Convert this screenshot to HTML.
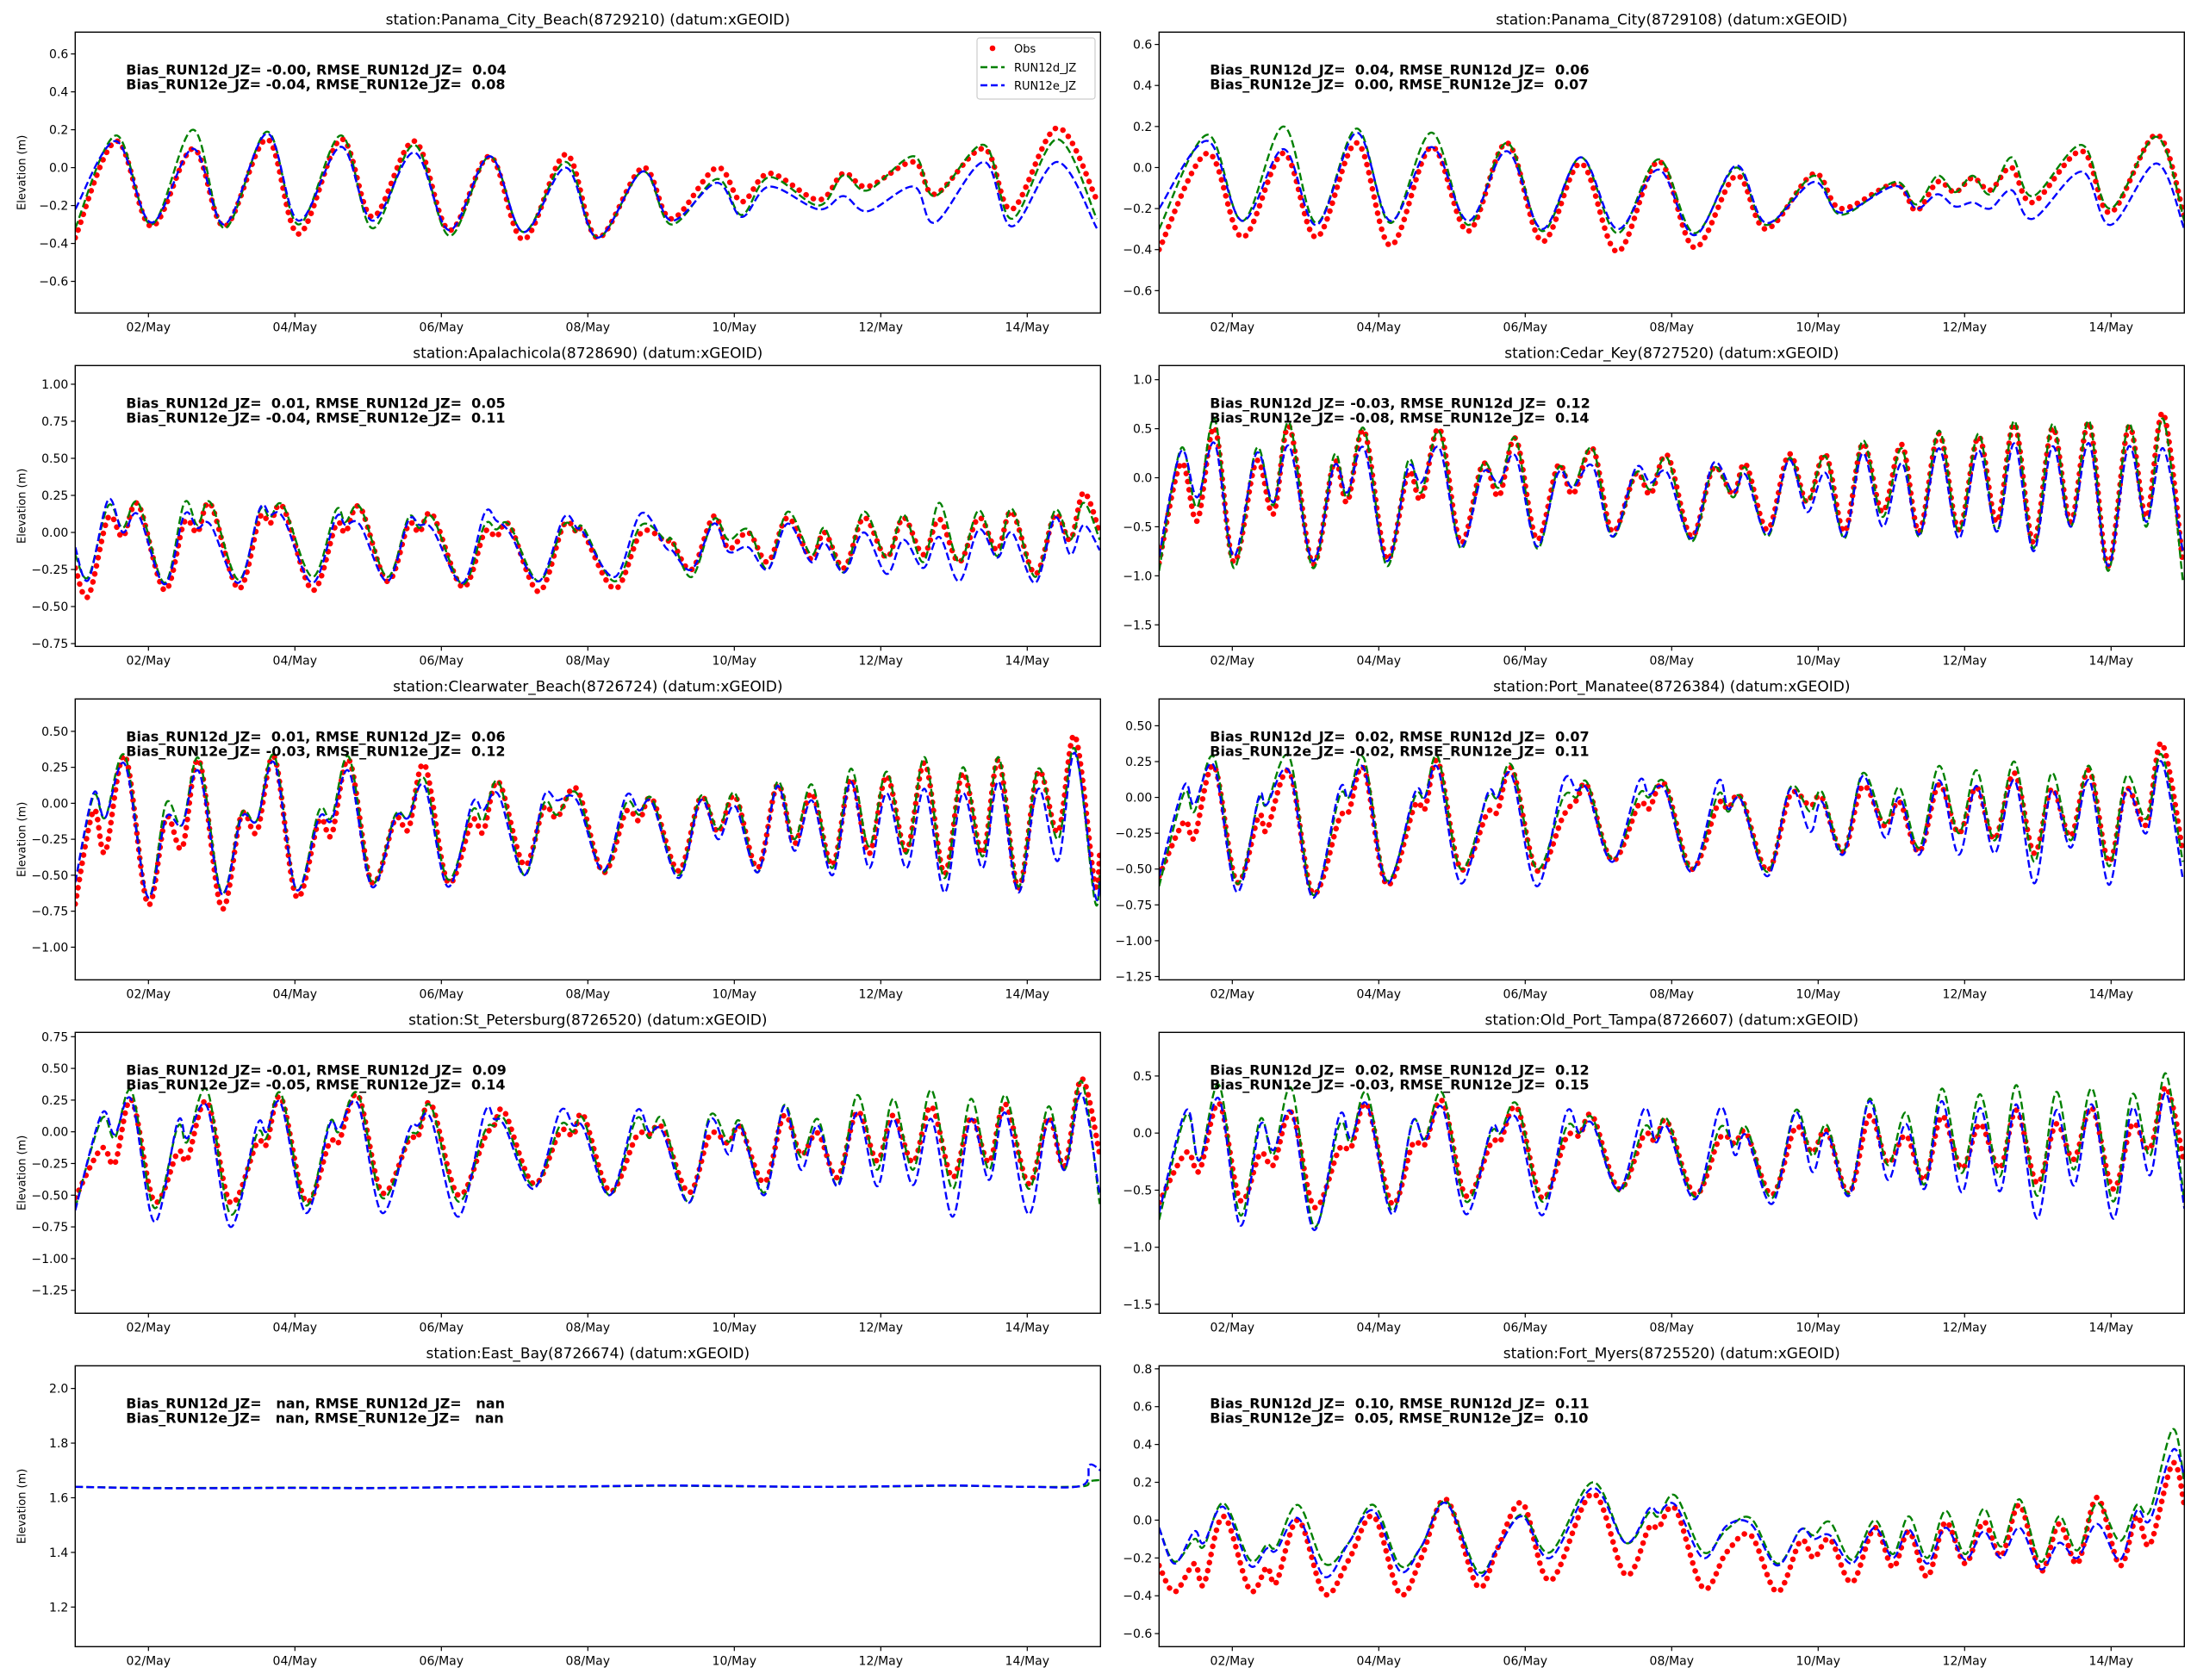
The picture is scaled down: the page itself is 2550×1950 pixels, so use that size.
<!DOCTYPE html>
<html><head><meta charset="utf-8"><title>Station water level comparison</title>
<style>
html,body{margin:0;padding:0;background:#fff;}
svg{display:block;font-family:"DejaVu Sans","Liberation Sans",sans-serif;}
.pre{white-space:pre;}
</style></head>
<body>
<svg id="fig" width="2550" height="1950" viewBox="0 0 2550 1950" xmlns="http://www.w3.org/2000/svg"></svg>
<script>
// ---------- x-axis ----------
const xTickDays = [1,3,5,7,9,11,13];
const xTickLabels = ["02/May","04/May","06/May","08/May","10/May","12/May","14/May"];

// ---------- Panel 1: Panama_City_Beach ----------
const p1T   = [0,0.56,1.04,1.61,2.04,2.62,3.05,3.63,4.06,4.63,5.11,5.66,6.12,6.70,7.13,7.75,8.14,8.76,9.10,9.48,10.15,10.49,10.82,11.45,11.74,12.41,12.79,13.41,13.95];
const p1Obs = [-0.37,0.14,-0.31,0.10,-0.31,0.15,-0.35,0.15,-0.26,0.14,-0.33,0.06,-0.38,0.07,-0.37,0.0,-0.27,0.0,-0.18,-0.03,-0.17,-0.03,-0.10,0.03,-0.14,0.10,-0.22,0.21,-0.17];
const p1D   = [-0.32,0.17,-0.30,0.20,-0.32,0.19,-0.30,0.17,-0.32,0.12,-0.36,0.06,-0.34,0.03,-0.37,-0.02,-0.30,-0.06,-0.25,-0.05,-0.20,-0.04,-0.12,0.06,-0.15,0.12,-0.27,0.15,-0.27];
const p1E   = [-0.22,0.14,-0.29,0.10,-0.30,0.18,-0.28,0.11,-0.28,0.08,-0.33,0.06,-0.34,0.0,-0.37,-0.02,-0.28,-0.08,-0.26,-0.10,-0.22,-0.15,-0.23,-0.10,-0.29,0.03,-0.31,0.03,-0.32];
const p1Ticks = [-0.6,-0.4,-0.2,0.0,0.2,0.4,0.6];

// ---------- Panel 2: Panama_City ----------
const p2T   = [0,0.66,1.14,1.70,2.15,2.70,3.16,3.72,4.22,4.75,5.23,5.76,6.26,6.82,7.31,7.88,8.29,8.94,9.31,10.05,10.34,10.63,10.87,11.11,11.35,11.64,11.93,12.60,12.99,13.62,14.0];
const p2Obs = [-0.40,0.07,-0.34,0.07,-0.34,0.12,-0.38,0.10,-0.31,0.12,-0.36,0.02,-0.41,0.03,-0.39,-0.04,-0.30,-0.03,-0.20,-0.08,-0.21,-0.07,-0.12,-0.05,-0.11,0.0,-0.17,0.08,-0.22,0.16,-0.24];
const p2D   = [-0.30,0.16,-0.26,0.20,-0.27,0.19,-0.27,0.17,-0.28,0.12,-0.31,0.05,-0.32,0.04,-0.32,0.0,-0.28,-0.04,-0.23,-0.07,-0.18,-0.04,-0.12,-0.04,-0.13,0.05,-0.14,0.11,-0.20,0.15,-0.26];
const p2E   = [-0.20,0.13,-0.26,0.09,-0.28,0.17,-0.26,0.10,-0.26,0.08,-0.30,0.05,-0.30,-0.01,-0.33,0.01,-0.27,-0.07,-0.22,-0.09,-0.20,-0.13,-0.19,-0.17,-0.20,-0.11,-0.25,-0.02,-0.28,0.02,-0.30];
const p2Ticks = [-0.6,-0.4,-0.2,0.0,0.2,0.4,0.6];

// ---------- Panel 3: Apalachicola ----------
const p3T   = [0,0.18,0.45,0.65,0.86,1.22,1.49,1.67,1.85,2.23,2.52,2.66,2.84,3.24,3.56,3.69,3.89,4.26,4.55,4.70,4.88,5.29,5.59,5.75,5.93,6.33,6.67,6.85,6.94,7.37,7.73,8.06,8.15,8.42,8.72,8.92,9.19,9.46,9.73,10.05,10.23,10.50,10.77,11.08,11.31,11.58,11.80,12.07,12.34,12.59,12.79,13.11,13.38,13.59,13.77,13.99];
const p3Obs = [-0.24,-0.43,0.10,-0.03,0.19,-0.39,0.07,0.0,0.19,-0.38,0.10,0.06,0.17,-0.39,0.05,0.0,0.17,-0.33,0.05,0.0,0.12,-0.37,0.0,-0.03,0.05,-0.40,0.05,0.0,0.0,-0.38,0.0,-0.06,-0.06,-0.25,0.11,-0.11,0.0,-0.20,0.10,-0.18,0.0,-0.24,0.10,-0.17,0.10,-0.15,0.09,-0.20,0.10,-0.12,0.14,-0.28,0.12,-0.05,0.27,0.0];
const p3D   = [-0.15,-0.30,0.18,0.03,0.20,-0.34,0.20,0.05,0.20,-0.32,0.15,0.10,0.18,-0.30,0.15,0.07,0.17,-0.30,0.10,0.03,0.10,-0.35,0.05,0.02,0.05,-0.33,0.05,0.0,0.03,-0.33,0.05,-0.05,-0.05,-0.30,0.09,-0.05,0.02,-0.25,0.14,-0.15,0.03,-0.27,0.14,-0.17,0.12,-0.20,0.20,-0.20,0.15,-0.16,0.16,-0.30,0.15,-0.05,0.20,-0.05];
const p3E   = [-0.10,-0.32,0.22,0.0,0.12,-0.35,0.12,0.03,0.05,-0.34,0.16,0.12,0.10,-0.34,0.10,0.05,0.05,-0.33,0.08,0.05,0.02,-0.34,0.13,0.08,0.0,-0.33,0.10,0.03,0.0,-0.30,0.13,-0.10,-0.12,-0.25,0.06,-0.13,-0.10,-0.25,0.06,-0.20,-0.07,-0.27,0.0,-0.28,-0.05,-0.24,-0.03,-0.33,0.02,-0.17,0.0,-0.34,0.10,-0.15,0.05,-0.12];
const p3Ticks = [-0.75,-0.5,-0.25,0.0,0.25,0.5,0.75,1.0];

// ---------- Panel 4: Cedar_Key ----------
const p4T   = [0,0.30,0.52,0.76,1.02,1.33,1.56,1.78,2.10,2.39,2.57,2.80,3.11,3.40,3.58,3.83,4.12,4.42,4.64,4.87,5.16,5.45,5.65,5.92,6.19,6.51,6.71,6.94,7.27,7.57,7.84,8.01,8.31,8.60,8.85,9.10,9.36,9.61,9.88,10.14,10.38,10.65,10.92,11.19,11.44,11.68,11.94,12.20,12.45,12.70,12.96,13.24,13.48,13.71,13.98];
const p4Obs = [-0.87,0.15,-0.44,0.51,-0.86,0.17,-0.37,0.52,-0.88,0.16,-0.25,0.48,-0.83,0.05,-0.22,0.50,-0.66,0.14,-0.19,0.40,-0.63,0.13,-0.17,0.30,-0.55,0.04,-0.17,0.23,-0.60,0.10,-0.17,0.14,-0.53,0.24,-0.25,0.24,-0.55,0.35,-0.35,0.34,-0.55,0.45,-0.53,0.42,-0.45,0.55,-0.66,0.51,-0.45,0.56,-0.90,0.52,-0.40,0.66,-0.87];
const p4D   = [-0.95,0.30,-0.30,0.60,-0.92,0.30,-0.28,0.56,-0.92,0.23,-0.20,0.50,-0.90,0.17,-0.15,0.47,-0.72,0.14,-0.10,0.40,-0.72,0.10,-0.10,0.30,-0.60,0.05,-0.12,0.20,-0.65,0.10,-0.20,0.10,-0.60,0.20,-0.25,0.22,-0.62,0.38,-0.40,0.30,-0.60,0.48,-0.55,0.45,-0.55,0.58,-0.72,0.55,-0.50,0.58,-0.95,0.55,-0.50,0.60,-1.05];
const p4E   = [-0.80,0.27,-0.20,0.35,-0.80,0.25,-0.25,0.32,-0.85,0.12,-0.15,0.30,-0.85,0.10,-0.05,0.30,-0.70,0.05,-0.05,0.22,-0.70,0.05,-0.10,0.12,-0.60,0.10,-0.05,0.05,-0.62,0.15,-0.15,0.03,-0.58,0.18,-0.35,0.05,-0.60,0.25,-0.50,0.15,-0.58,0.30,-0.62,0.28,-0.55,0.35,-0.75,0.32,-0.50,0.35,-0.90,0.32,-0.45,0.30,-0.75];
const p4Ticks = [-1.5,-1.0,-0.5,0.0,0.5,1.0];

// ---------- Panel 5: Clearwater_Beach ----------
const p5T   = [0,0.25,0.41,0.68,0.99,1.24,1.46,1.69,2.0,2.27,2.48,2.72,3.02,3.33,3.50,3.74,4.05,4.37,4.55,4.77,5.09,5.42,5.57,5.78,6.13,6.40,6.58,6.85,7.21,7.52,7.70,7.88,8.24,8.54,8.78,9.01,9.32,9.59,9.82,10.06,10.34,10.59,10.84,11.08,11.35,11.60,11.87,12.12,12.39,12.61,12.88,13.15,13.42,13.65,13.92,13.99];
const p5Obs = [-0.70,-0.05,-0.34,0.33,-0.70,-0.10,-0.31,0.30,-0.73,-0.08,-0.20,0.32,-0.65,-0.12,-0.22,0.30,-0.55,-0.11,-0.18,0.27,-0.55,-0.12,-0.20,0.15,-0.43,-0.03,-0.10,0.10,-0.48,-0.06,-0.12,0.03,-0.47,0.04,-0.20,0.05,-0.45,0.13,-0.28,0.07,-0.43,0.17,-0.35,0.19,-0.33,0.28,-0.49,0.21,-0.35,0.30,-0.59,0.22,-0.20,0.47,-0.55,-0.35];
const p5D   = [-0.55,0.05,-0.10,0.33,-0.65,0.0,-0.15,0.31,-0.62,-0.07,-0.12,0.33,-0.60,-0.05,-0.10,0.32,-0.55,-0.08,-0.10,0.17,-0.53,-0.05,-0.12,0.15,-0.50,0.0,-0.08,0.07,-0.48,0.0,-0.08,0.03,-0.50,0.05,-0.18,0.07,-0.48,0.15,-0.25,0.13,-0.45,0.24,-0.30,0.22,-0.35,0.32,-0.52,0.25,-0.37,0.32,-0.58,0.24,-0.25,0.38,-0.67,-0.50];
const p5E   = [-0.55,0.07,-0.10,0.27,-0.65,-0.10,-0.15,0.22,-0.63,-0.10,-0.12,0.28,-0.60,-0.10,-0.12,0.22,-0.58,-0.10,-0.10,0.12,-0.58,0.0,-0.05,0.06,-0.50,0.05,0.02,0.02,-0.47,0.05,-0.05,0.0,-0.52,0.02,-0.25,-0.02,-0.48,0.12,-0.33,0.02,-0.50,0.15,-0.45,0.07,-0.45,0.10,-0.62,0.07,-0.45,0.15,-0.62,0.10,-0.40,0.35,-0.62,-0.55];
const p5Ticks = [-1.0,-0.75,-0.5,-0.25,0.0,0.25,0.5];

// ---------- Panel 6: Port_Manatee ----------
const p6T   = [0,0.34,0.48,0.75,1.06,1.36,1.47,1.78,2.10,2.46,2.59,2.80,3.11,3.49,3.63,3.81,4.12,4.48,4.62,4.82,5.16,5.52,5.70,5.85,6.19,6.55,6.69,6.91,7.27,7.63,7.77,7.95,8.31,8.62,8.89,9.05,9.34,9.61,9.91,10.11,10.38,10.65,10.92,11.16,11.41,11.68,11.95,12.19,12.45,12.70,12.97,13.21,13.48,13.69,13.98];
const p6Obs = [-0.55,-0.17,-0.28,0.22,-0.59,-0.13,-0.23,0.18,-0.67,-0.15,-0.10,0.20,-0.61,-0.06,-0.08,0.25,-0.50,-0.11,-0.10,0.20,-0.51,-0.13,-0.02,0.08,-0.44,-0.05,-0.08,0.09,-0.50,-0.05,-0.08,0.0,-0.51,0.02,-0.06,0.0,-0.38,0.08,-0.20,-0.03,-0.38,0.09,-0.25,0.07,-0.29,0.17,-0.39,0.06,-0.27,0.19,-0.45,0.06,-0.19,0.38,-0.38];
const p6D   = [-0.62,0.03,-0.10,0.28,-0.60,-0.02,-0.05,0.28,-0.68,0.0,0.0,0.27,-0.58,0.0,0.0,0.28,-0.50,0.0,0.0,0.22,-0.50,0.0,0.0,0.10,-0.43,0.02,0.0,0.10,-0.50,0.02,-0.10,0.0,-0.52,0.07,-0.10,0.04,-0.38,0.17,-0.18,0.07,-0.35,0.22,-0.25,0.19,-0.30,0.25,-0.45,0.17,-0.30,0.22,-0.48,0.15,-0.15,0.30,-0.45];
const p6E   = [-0.55,0.08,-0.05,0.22,-0.66,0.0,-0.05,0.18,-0.70,0.05,0.0,0.20,-0.60,0.03,0.0,0.20,-0.60,0.02,0.0,0.15,-0.62,0.11,0.05,0.05,-0.45,0.11,0.02,0.05,-0.52,0.11,-0.08,-0.02,-0.55,0.06,-0.24,-0.03,-0.40,0.15,-0.28,0.0,-0.40,0.12,-0.40,0.08,-0.39,0.12,-0.60,0.05,-0.35,0.12,-0.61,0.05,-0.25,0.25,-0.57];
const p6Ticks = [-1.25,-1.0,-0.75,-0.5,-0.25,0.0,0.25,0.5];

// ---------- Panel 7: St_Petersburg ----------
const p7T   = [0,0.36,0.54,0.77,1.08,1.40,1.53,1.80,2.12,2.48,2.61,2.81,3.15,3.47,3.60,3.86,4.19,4.55,4.68,4.86,5.23,5.59,5.72,5.86,6.26,6.62,6.80,6.94,7.30,7.66,7.84,8.02,8.38,8.67,8.92,9.08,9.41,9.68,9.91,10.14,10.41,10.68,10.95,11.17,11.44,11.69,11.98,12.23,12.48,12.70,13.02,13.29,13.51,13.74,13.99];
const p7Obs = [-0.52,-0.13,-0.25,0.25,-0.55,-0.16,-0.22,0.24,-0.56,-0.09,-0.10,0.27,-0.55,-0.09,-0.08,0.29,-0.48,-0.07,-0.04,0.22,-0.50,-0.05,0.05,0.16,-0.41,0.0,-0.03,0.13,-0.47,-0.04,-0.02,0.03,-0.48,-0.02,-0.09,0.04,-0.40,0.13,-0.18,-0.01,-0.36,0.16,-0.23,0.13,-0.24,0.20,-0.36,0.11,-0.24,0.22,-0.41,0.11,-0.27,0.42,-0.18];
const p7D   = [-0.60,0.10,-0.05,0.32,-0.60,0.04,-0.08,0.33,-0.65,-0.02,-0.05,0.30,-0.58,0.07,0.0,0.30,-0.52,-0.05,0.0,0.20,-0.55,0.0,0.05,0.10,-0.43,0.05,0.0,0.10,-0.50,0.10,-0.05,0.10,-0.56,0.13,-0.08,0.08,-0.48,0.21,-0.20,0.10,-0.42,0.29,-0.30,0.26,-0.30,0.33,-0.45,0.26,-0.30,0.29,-0.45,0.20,-0.30,0.40,-0.57];
const p7E   = [-0.62,0.14,-0.02,0.25,-0.71,0.08,-0.05,0.20,-0.75,0.05,0.0,0.22,-0.64,0.05,0.02,0.22,-0.64,0.0,0.05,0.10,-0.67,0.15,0.10,0.05,-0.45,0.16,0.05,0.03,-0.50,0.16,0.0,0.0,-0.56,0.10,-0.18,0.05,-0.50,0.20,-0.30,0.05,-0.43,0.15,-0.43,0.10,-0.42,0.10,-0.67,0.10,-0.38,0.15,-0.65,0.10,-0.30,0.30,-0.50];
const p7Ticks = [-1.25,-1.0,-0.75,-0.5,-0.25,0.0,0.25,0.5,0.75];

// ---------- Panel 8: Old_Port_Tampa ----------
const p8T   = [0,0.37,0.55,0.82,1.11,1.38,1.56,1.81,2.12,2.46,2.62,2.84,3.18,3.46,3.63,3.87,4.19,4.53,4.66,4.89,5.23,5.56,5.74,5.92,6.28,6.62,6.78,6.94,7.32,7.66,7.86,8.02,8.37,8.69,8.92,9.12,9.42,9.70,9.95,10.20,10.45,10.69,10.96,11.21,11.48,11.71,11.99,12.25,12.49,12.74,13.03,13.29,13.53,13.75,14.0];
const p8Obs = [-0.61,-0.17,-0.33,0.26,-0.59,-0.18,-0.28,0.18,-0.65,-0.14,-0.13,0.25,-0.62,-0.10,-0.10,0.28,-0.55,-0.09,-0.07,0.22,-0.57,-0.04,-0.02,0.15,-0.49,-0.02,-0.07,0.10,-0.54,-0.04,-0.09,0.0,-0.54,0.05,-0.17,0.02,-0.53,0.15,-0.26,-0.02,-0.41,0.15,-0.31,0.08,-0.31,0.20,-0.44,0.08,-0.23,0.22,-0.49,0.08,-0.14,0.40,-0.27];
const p8D   = [-0.76,0.16,-0.24,0.42,-0.72,0.12,-0.19,0.39,-0.82,0.07,-0.08,0.35,-0.68,0.10,-0.05,0.35,-0.60,0.0,0.0,0.25,-0.60,0.05,0.0,0.13,-0.51,0.05,-0.05,0.12,-0.56,0.05,-0.12,0.05,-0.57,0.20,-0.20,0.07,-0.53,0.30,-0.28,0.18,-0.45,0.39,-0.35,0.34,-0.38,0.42,-0.55,0.36,-0.32,0.39,-0.60,0.34,-0.20,0.52,-0.60];
const p8E   = [-0.70,0.20,-0.24,0.30,-0.81,0.07,-0.15,0.18,-0.85,0.15,-0.05,0.25,-0.71,0.10,-0.07,0.22,-0.71,0.03,0.0,0.12,-0.72,0.18,0.0,0.08,-0.50,0.21,-0.08,0.05,-0.58,0.22,-0.19,-0.02,-0.62,0.18,-0.34,0.0,-0.55,0.28,-0.41,0.08,-0.49,0.28,-0.52,0.22,-0.51,0.25,-0.75,0.20,-0.46,0.25,-0.75,0.22,-0.37,0.35,-0.66];
const p8Ticks = [-1.5,-1.0,-0.5,0.0,0.5];

// ---------- Panel 9: East_Bay ----------
const p9T   = [0,1,2,3,4,5,6,7,8,9,10,11,12,13,13.75,13.85,14.0];
const p9Obs = [];
const p9D   = [1.64,1.636,1.636,1.637,1.636,1.638,1.64,1.641,1.644,1.642,1.64,1.641,1.644,1.64,1.642,1.66,1.665];
const p9E   = [1.64,1.635,1.635,1.636,1.635,1.638,1.64,1.642,1.645,1.643,1.64,1.642,1.645,1.64,1.645,1.72,1.70];
const p9Ticks = [1.2,1.4,1.6,1.8,2.0];

// ---------- Panel 10: Fort_Myers ----------
const p10T   = [0,0.21,0.48,0.61,0.88,1.24,1.47,1.60,1.90,2.26,2.59,2.93,3.29,3.58,3.92,4.35,4.62,4.96,5.34,5.92,6.37,6.69,6.82,7.05,7.43,7.75,8.08,8.44,8.76,8.94,9.16,9.46,9.77,10.02,10.24,10.49,10.74,11.01,11.26,11.50,11.75,12.04,12.29,12.54,12.81,13.12,13.35,13.53,13.84,14.0];
const p10Obs = [-0.24,-0.38,-0.23,-0.34,0.02,-0.37,-0.25,-0.33,0.0,-0.39,-0.21,0.02,-0.39,-0.20,0.11,-0.35,-0.15,0.09,-0.32,0.14,-0.29,-0.04,-0.04,0.06,-0.36,-0.17,-0.08,-0.38,-0.11,-0.20,-0.10,-0.33,-0.04,-0.25,-0.06,-0.30,-0.01,-0.23,-0.01,-0.19,0.08,-0.27,-0.02,-0.23,0.12,-0.24,0.02,-0.13,0.30,0.08];
const p10D   = [-0.04,-0.22,-0.10,-0.14,0.09,-0.21,-0.13,-0.14,0.08,-0.23,-0.12,0.08,-0.24,-0.14,0.10,-0.27,-0.15,0.03,-0.17,0.20,-0.12,0.04,0.02,0.13,-0.17,-0.05,0.01,-0.23,-0.05,-0.08,-0.01,-0.21,0.0,-0.18,0.02,-0.20,0.05,-0.18,0.06,-0.14,0.11,-0.22,0.02,-0.16,0.09,-0.11,0.08,0.05,0.48,0.20];
const p10E   = [-0.04,-0.23,-0.06,-0.12,0.07,-0.24,-0.15,-0.16,0.01,-0.30,-0.12,0.05,-0.27,-0.14,0.09,-0.29,-0.15,0.02,-0.20,0.17,-0.12,0.06,0.04,0.08,-0.20,-0.03,-0.02,-0.24,-0.05,-0.10,-0.08,-0.23,-0.04,-0.20,-0.05,-0.23,-0.04,-0.21,-0.06,-0.20,-0.04,-0.26,-0.12,-0.20,-0.02,-0.21,0.05,0.0,0.37,0.23];
const p10Ticks = [-0.6,-0.4,-0.2,0.0,0.2,0.4,0.6,0.8];

// ---------- panel definitions ----------
const panels = [
 {key:"panama-city-beach",title:"station:Panama_City_Beach(8729210) (datum:xGEOID)",col:0,row:0,y0:-0.767,y1:0.715,ticks:p1Ticks,dec:1,t:p1T,obs:p1Obs,d:p1D,e:p1E,b1:"Bias_RUN12d_JZ= -0.00, RMSE_RUN12d_JZ=  0.04",b2:"Bias_RUN12e_JZ= -0.04, RMSE_RUN12e_JZ=  0.08",legend:true},
 {key:"panama-city",title:"station:Panama_City(8729108) (datum:xGEOID)",col:1,row:0,y0:-0.709,y1:0.66,ticks:p2Ticks,dec:1,t:p2T,obs:p2Obs,d:p2D,e:p2E,b1:"Bias_RUN12d_JZ=  0.04, RMSE_RUN12d_JZ=  0.06",b2:"Bias_RUN12e_JZ=  0.00, RMSE_RUN12e_JZ=  0.07"},
 {key:"apalachicola",title:"station:Apalachicola(8728690) (datum:xGEOID)",col:0,row:1,y0:-0.769,y1:1.126,ticks:p3Ticks,dec:2,t:p3T,obs:p3Obs,d:p3D,e:p3E,b1:"Bias_RUN12d_JZ=  0.01, RMSE_RUN12d_JZ=  0.05",b2:"Bias_RUN12e_JZ= -0.04, RMSE_RUN12e_JZ=  0.11"},
 {key:"cedar-key",title:"station:Cedar_Key(8727520) (datum:xGEOID)",col:1,row:1,y0:-1.72,y1:1.144,ticks:p4Ticks,dec:1,t:p4T,obs:p4Obs,d:p4D,e:p4E,b1:"Bias_RUN12d_JZ= -0.03, RMSE_RUN12d_JZ=  0.12",b2:"Bias_RUN12e_JZ= -0.08, RMSE_RUN12e_JZ=  0.14"},
 {key:"clearwater-beach",title:"station:Clearwater_Beach(8726724) (datum:xGEOID)",col:0,row:2,y0:-1.227,y1:0.725,ticks:p5Ticks,dec:2,t:p5T,obs:p5Obs,d:p5D,e:p5E,b1:"Bias_RUN12d_JZ=  0.01, RMSE_RUN12d_JZ=  0.06",b2:"Bias_RUN12e_JZ= -0.03, RMSE_RUN12e_JZ=  0.12"},
 {key:"port-manatee",title:"station:Port_Manatee(8726384) (datum:xGEOID)",col:1,row:2,y0:-1.273,y1:0.687,ticks:p6Ticks,dec:2,t:p6T,obs:p6Obs,d:p6D,e:p6E,b1:"Bias_RUN12d_JZ=  0.02, RMSE_RUN12d_JZ=  0.07",b2:"Bias_RUN12e_JZ= -0.02, RMSE_RUN12e_JZ=  0.11"},
 {key:"st-petersburg",title:"station:St_Petersburg(8726520) (datum:xGEOID)",col:0,row:3,y0:-1.431,y1:0.784,ticks:p7Ticks,dec:2,t:p7T,obs:p7Obs,d:p7D,e:p7E,b1:"Bias_RUN12d_JZ= -0.01, RMSE_RUN12d_JZ=  0.09",b2:"Bias_RUN12e_JZ= -0.05, RMSE_RUN12e_JZ=  0.14"},
 {key:"old-port-tampa",title:"station:Old_Port_Tampa(8726607) (datum:xGEOID)",col:1,row:3,y0:-1.578,y1:0.882,ticks:p8Ticks,dec:1,t:p8T,obs:p8Obs,d:p8D,e:p8E,b1:"Bias_RUN12d_JZ=  0.02, RMSE_RUN12d_JZ=  0.12",b2:"Bias_RUN12e_JZ= -0.03, RMSE_RUN12e_JZ=  0.15"},
 {key:"east-bay",title:"station:East_Bay(8726674) (datum:xGEOID)",col:0,row:4,y0:1.055,y1:2.083,ticks:p9Ticks,dec:1,t:p9T,obs:p9Obs,d:p9D,e:p9E,b1:"Bias_RUN12d_JZ=   nan, RMSE_RUN12d_JZ=   nan",b2:"Bias_RUN12e_JZ=   nan, RMSE_RUN12e_JZ=   nan"},
 {key:"fort-myers",title:"station:Fort_Myers(8725520) (datum:xGEOID)",col:1,row:4,y0:-0.669,y1:0.816,ticks:p10Ticks,dec:1,t:p10T,obs:p10Obs,d:p10D,e:p10E,b1:"Bias_RUN12d_JZ=  0.10, RMSE_RUN12d_JZ=  0.11",b2:"Bias_RUN12e_JZ=  0.05, RMSE_RUN12e_JZ=  0.10"}
];

const NS = "http://www.w3.org/2000/svg";
const fig = document.getElementById("fig");
const COLX = [87.3, 1345.3], W = 1190, H = 326, TOP0 = 37.3, ROWSTEP = 387, DAYS = 14;

function mk(tag, attrs, parent) {
  const el = document.createElementNS(NS, tag);
  for (const k in attrs) el.setAttribute(k, attrs[k]);
  parent.appendChild(el);
  return el;
}
function fmt(v, dec) {
  const s = Math.abs(v).toFixed(dec);
  return (v < -1e-9 ? "\u2212" : "") + s;
}
function smooth(pts) {
  if (!pts.length) return "";
  let d = "M" + pts[0][0].toFixed(2) + "," + pts[0][1].toFixed(2);
  for (let i = 0; i < pts.length - 1; i++) {
    const p0 = pts[i - 1] || pts[i], p1 = pts[i], p2 = pts[i + 1], p3 = pts[i + 2] || p2;
    const c1x = p1[0] + (p2[0] - p0[0]) / 6, c1y = p1[1] + (p2[1] - p0[1]) / 6;
    const c2x = p2[0] - (p3[0] - p1[0]) / 6, c2y = p2[1] - (p3[1] - p1[1]) / 6;
    d += " C" + c1x.toFixed(2) + "," + c1y.toFixed(2) + " " + c2x.toFixed(2) + "," + c2y.toFixed(2) + " " + p2[0].toFixed(2) + "," + p2[1].toFixed(2);
  }
  return d;
}

panels.forEach((p, idx) => {
  const x0 = COLX[p.col], top = TOP0 + p.row * ROWSTEP, bottom = top + H;
  const xS = t => x0 + t / DAYS * W;
  const yS = v => bottom - (v - p.y0) / (p.y1 - p.y0) * H;

  const g = mk("g", {}, fig);
  
  

  const clip = mk("clipPath", {id: "clip" + idx}, g);
  mk("rect", {x: x0, y: top, width: W, height: H}, clip);

  const title = mk("text", {x: x0 + W / 2, y: top - 9, "text-anchor": "middle", "font-size": "17", fill: "#000"}, g);
  title.textContent = p.title;
  
  

  if (p.col === 0) {
    const yl = mk("text", {x: 0, y: 0, transform: "translate(" + (x0 - 58) + "," + (top + H / 2) + ") rotate(-90)", "text-anchor": "middle", "font-size": "13", fill: "#000"}, g);
    yl.textContent = "Elevation (m)";
    
    
  }

  p.ticks.forEach(v => {
    const y = yS(v);
    const tk = mk("line", {x1: x0 - 5, x2: x0, y1: y, y2: y, stroke: "#000", "stroke-width": 1.2}, g);
    
    
    const lb = mk("text", {x: x0 - 8, y: y + 5, "text-anchor": "end", "font-size": "14", fill: "#000"}, g);
    lb.textContent = fmt(v, p.dec);
    
    
  });
  xTickDays.forEach((dd, i) => {
    const x = xS(dd);
    const tk = mk("line", {x1: x, x2: x, y1: bottom, y2: bottom + 5, stroke: "#000", "stroke-width": 1.2}, g);
    
    
    const lb = mk("text", {x: x, y: bottom + 21, "text-anchor": "middle", "font-size": "14", fill: "#000"}, g);
    lb.textContent = xTickLabels[i];
    
    
  });

  const sg = mk("g", {"clip-path": "url(#clip" + idx + ")"}, g);
  
  
  const n = p.t.length;
  const mkPts = arr => { const out = []; for (let i = 0; i < Math.min(n, arr.length); i++) out.push([xS(p.t[i]), yS(arr[i])]); return out; };
  if (p.obs.length) {
    const o = mk("path", {d: smooth(mkPts(p.obs)), fill: "none", stroke: "#ff0000", "stroke-width": 6.5, "stroke-linecap": "round", "stroke-dasharray": "0.1 9.5"}, sg);
    
    
  }
  const dl = mk("path", {d: smooth(mkPts(p.d)), fill: "none", stroke: "#008000", "stroke-width": 2.4, "stroke-dasharray": "9 4"}, sg);
  
  
  const el = mk("path", {d: smooth(mkPts(p.e)), fill: "none", stroke: "#0000ff", "stroke-width": 2.4, "stroke-dasharray": "9 4"}, sg);
  
  

  const fr = mk("rect", {x: x0, y: top, width: W, height: H, fill: "none", stroke: "#000", "stroke-width": 1.4}, g);
  
  

  const t1 = mk("text", {x: x0 + 59, y: top + 49, "font-size": "16", "font-weight": "bold", fill: "#000", "class": "pre"}, g);
  t1.textContent = p.b1;
  
  
  const t2 = mk("text", {x: x0 + 59, y: top + 66, "font-size": "16", "font-weight": "bold", fill: "#000", "class": "pre"}, g);
  t2.textContent = p.b2;
  
  

  if (p.legend) {
    const lg = mk("g", {}, g);
    
    
    mk("rect", {x: 1134, y: 44, width: 137, height: 71, rx: 3, fill: "#fff", "fill-opacity": 0.8, stroke: "#cccccc", "stroke-width": 1.2}, lg);
    const dot = mk("circle", {cx: 1152, cy: 56, r: 3.3, fill: "#ff0000"}, lg);
    
    
    const l1 = mk("text", {x: 1177, y: 61, "font-size": "13", fill: "#000"}, lg);
    l1.textContent = "Obs";
    
    
    const ln2 = mk("line", {x1: 1138, x2: 1166, y1: 78, y2: 78, stroke: "#008000", "stroke-width": 2.4, "stroke-dasharray": "8 4"}, lg);
    
    
    const l2 = mk("text", {x: 1177, y: 83, "font-size": "13", fill: "#000"}, lg);
    l2.textContent = "RUN12d_JZ";
    
    
    const ln3 = mk("line", {x1: 1138, x2: 1166, y1: 99, y2: 99, stroke: "#0000ff", "stroke-width": 2.4, "stroke-dasharray": "8 4"}, lg);
    
    
    const l3 = mk("text", {x: 1177, y: 104, "font-size": "13", fill: "#000"}, lg);
    l3.textContent = "RUN12e_JZ";
    
    
  }
});
</script>
</body></html>
